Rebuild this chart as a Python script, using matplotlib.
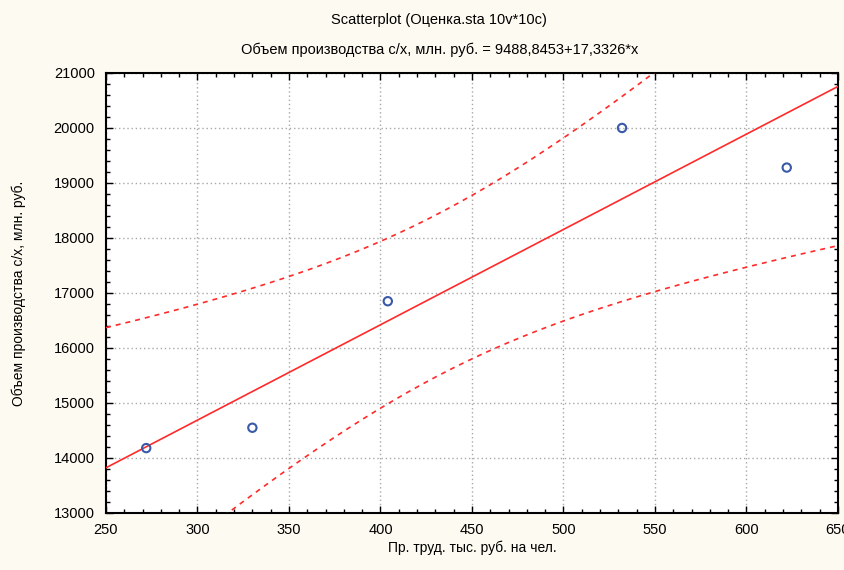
import numpy as np
import matplotlib
matplotlib.use('Agg')
import matplotlib.pyplot as plt
from matplotlib.ticker import MultipleLocator

# data
prod = [272, 330, 404, 532, 622]            # Пр. труд. тыс. руб. на чел.
volume = [14180, 14550, 16850, 20000, 19280]  # Объем производства с/х, млн. руб.
b0, b1 = 9488.8453, 17.3326

title = 'Scatterplot (Оценка.sta 10v*10c)'
subtitle = 'Объем производства с/х, млн. руб. = 9488,8453+17,3326*x'
xlabel = 'Пр. труд. тыс. руб. на чел.'
ylabel = 'Объем производства с/х, млн. руб.'

plt.rcParams['font.family'] = ['Liberation Sans', 'DejaVu Sans']

fig = plt.figure(figsize=(8.45, 5.7), dpi=100, facecolor='#fdfaf1')
ax = fig.add_axes([0.1254, 0.1, 0.8663, 0.772])
ax.set_facecolor('white')

x = np.array(prod, dtype=float)
y = np.array(volume, dtype=float)
n = len(x)
xs = np.linspace(250, 650, 200)
fit = b0 + b1 * xs
res = y - (b0 + b1 * x)
s = np.sqrt((res ** 2).sum() / (n - 2))
sxx = ((x - x.mean()) ** 2).sum()
t = 3.182446  # t(0.975, 3)
hw = t * s * np.sqrt(1.0 / n + (xs - x.mean()) ** 2 / sxx)

red = '#ff2a2a'
ax.plot(xs, fit, color=red, lw=1.2, zorder=3)
ax.plot(xs, fit + hw, color=red, lw=1.2, ls=(0, (3, 3)), zorder=3)
ax.plot(xs, fit - hw, color=red, lw=1.2, ls=(0, (3, 3)), zorder=3)
ax.scatter(x, y, s=36, facecolors='none', edgecolors='#3a5aa8', linewidths=1.5, zorder=4)

ax.set_xlim(250, 650)
ax.set_ylim(13000, 21000)
ax.xaxis.set_major_locator(MultipleLocator(50))
ax.xaxis.set_minor_locator(MultipleLocator(10))
ax.yaxis.set_major_locator(MultipleLocator(1000))
ax.yaxis.set_minor_locator(MultipleLocator(200))
ax.tick_params(which='both', direction='in', top=True, right=True, colors='black', labelsize=10.5)
ax.tick_params(which='major', length=5, width=1)
ax.tick_params(which='minor', length=3, width=1)
ax.tick_params(axis='x', pad=7)
ax.tick_params(axis='y', pad=8)
ax.grid(True, which='major', color='#a8a8a8', ls=(0, (1, 2)), lw=1, zorder=1)
for sp in ax.spines.values():
    sp.set_linewidth(1.5)
    sp.set_color('black')

ax.set_xlabel(xlabel, fontsize=10, labelpad=3)
ax.set_ylabel(ylabel, fontsize=10, labelpad=20)
fig.text(0.52, 0.965, title, ha='center', va='center', fontsize=10.5)
fig.text(0.52, 0.912, subtitle, ha='center', va='center', fontsize=10.5)

fig.savefig('out.png', dpi=100, facecolor=fig.get_facecolor())
